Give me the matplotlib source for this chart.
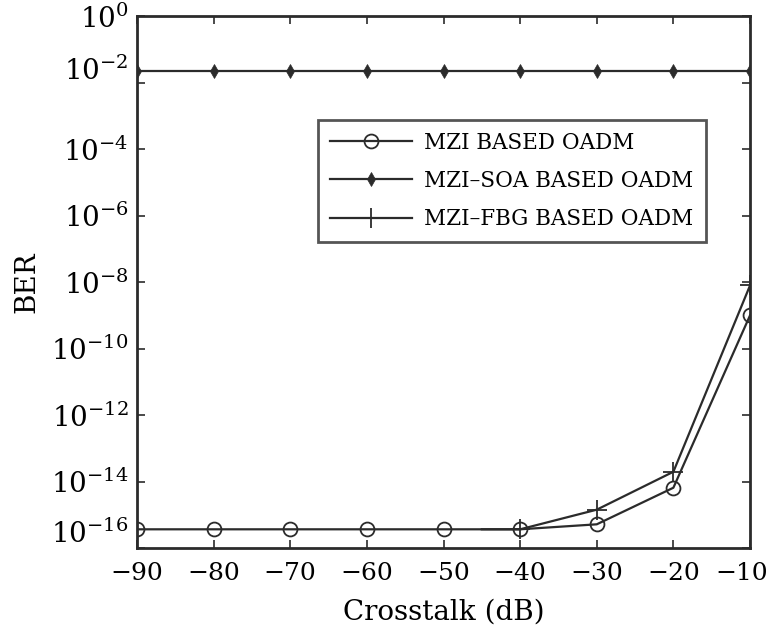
import numpy as np
import matplotlib.pyplot as plt
from matplotlib.transforms import ScaledTranslation

plt.rcParams['font.family'] = 'DejaVu Serif'
plt.rcParams['mathtext.fontset'] = 'dejavuserif'

# Crosstalk values (dB)
x_all = [-90, -80, -70, -60, -50, -40, -30, -20, -10]
x_fbg = [-45, -40, -30, -20, -10]

# BER curves (log10 values)
log_ber_mzi = [-15.43, -15.43, -15.43, -15.43, -15.43, -15.43, -15.28, -14.18, -9.0]
log_ber_soa = [-1.65, -1.65, -1.65, -1.65, -1.65, -1.65, -1.65, -1.65, -1.65]
log_ber_fbg = [-15.43, -15.43, -14.84, -13.7, -8.1]

ber_mzi = 10.0 ** np.array(log_ber_mzi)
ber_soa = 10.0 ** np.array(log_ber_soa)
ber_fbg = 10.0 ** np.array(log_ber_fbg)

col = '#2b2b2b'

fig = plt.figure(figsize=(7.74, 6.42), dpi=100)
ax = fig.add_axes([0.177, 0.146, 0.792, 0.829])

ax.semilogy(x_all, ber_mzi, color=col, lw=1.6, marker='o', ms=10,
            mfc='none', mec=col, mew=1.3, label='MZI BASED OADM')
ax.semilogy(x_all, ber_soa, color=col, lw=1.6, marker='d', ms=7,
            mfc=col, mec=col, mew=0.5, label='MZI\u2013SOA BASED OADM')
ax.semilogy(x_fbg, ber_fbg, color=col, lw=1.6, marker='+', ms=14,
            mew=1.3, markevery=[1, 2, 3, 4], label='MZI\u2013FBG BASED OADM')

ax.set_xlim(-90, -10)
ax.set_ylim(1e-16, 1e0)
ax.set_xticks(x_all)
ax.set_xticklabels([f'\u2212{abs(v)}' for v in x_all])
ax.set_yticks([10.0 ** k for k in range(0, -17, -2)])
ax.minorticks_off()

ax.tick_params(direction='in', length=6, width=1.2, labelsize=20,
               top=True, right=True, colors=col, labelcolor='black', pad=6)
ax.tick_params(axis='x', labelsize=18, pad=10)
for s in ax.spines.values():
    s.set_linewidth(2)
    s.set_color(col)

# nudge a few tick labels so they don't collide or run off the edge
def nudge(label, dx, dy):
    label.set_transform(label.get_transform()
                        + ScaledTranslation(dx / 72, dy / 72, fig.dpi_scale_trans))

ylabels = ax.get_yticklabels()
nudge(ylabels[1], 0, 10)
nudge(ylabels[-1], 0, 12)
nudge(ax.get_xticklabels()[-1], -6, 0)

ax.set_xlabel('Crosstalk (dB)', fontsize=20, labelpad=10)
ax.set_ylabel('BER', fontsize=20, labelpad=8)

leg = ax.legend(loc='upper right', bbox_to_anchor=(0.945, 0.825), fontsize=15.5,
                handlelength=3.8, frameon=True, fancybox=False,
                borderpad=0.55, labelspacing=0.75, handletextpad=0.6)
leg.get_frame().set_edgecolor(col)
leg.get_frame().set_linewidth(2)

fig.savefig('out.png', dpi=100)
